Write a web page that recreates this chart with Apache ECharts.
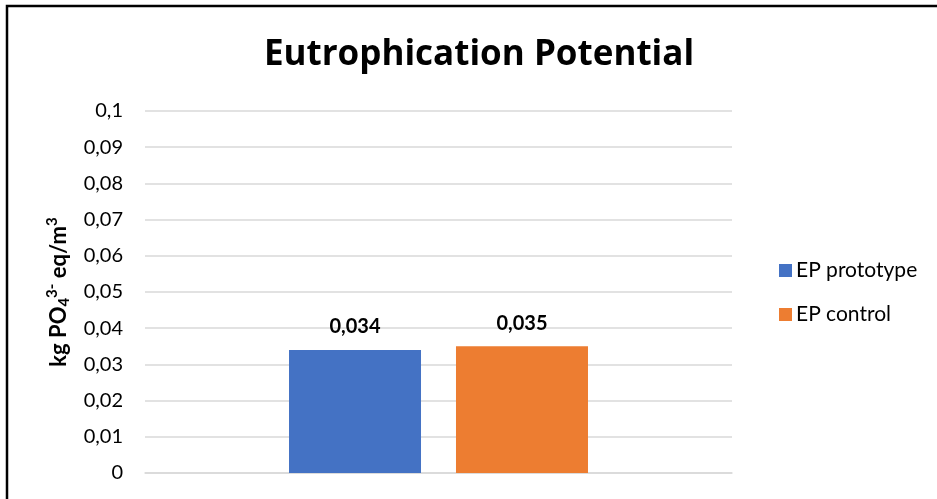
<!DOCTYPE html>
<html>
<head>
<meta charset="utf-8">
<script src="https://cdn.jsdelivr.net/npm/echarts@6/dist/echarts.min.js"></script>
<style>
  html, body { margin: 0; padding: 0; background: #fff; }
  #chart { width: 937px; height: 499px; }
</style>
</head>
<body>
<div id="chart"></div>
<script>
// Eutrophication potential, prototype vs control
const categories = ['EP'];
const seriesNames = ['EP prototype', 'EP control'];
const prototypeValues = [0.034];
const controlValues = [0.035];
const yTicks = { min: 0, max: 0.1, interval: 0.01 };

const FONT = 'Lato';
const TITLE_FONT = 'Open Sans';
const fmtComma = v => String(+v.toFixed(3)).replace('.', ',');

const chart = echarts.init(document.getElementById('chart'), null, { renderer: 'canvas' });

const barLabel = {
  show: true,
  position: 'top',
  distance: 13,
  fontFamily: FONT,
  fontWeight: 'bold',
  fontSize: 20,
  color: '#000',
  formatter: p => fmtComma(p.value)
};

chart.setOption({
  animation: false,
  backgroundColor: '#fff',
  title: {
    text: 'Eutrophication Potential',
    left: 474,
    textAlign: 'center',
    top: 33,
    textStyle: { fontFamily: TITLE_FONT, fontWeight: 'bold', fontSize: 35, color: '#000' }
  },
  graphic: [{
    type: 'rect',
    shape: { x: 7, y: 6, width: 960, height: 520 },
    style: { fill: 'none', stroke: '#000', lineWidth: 2.5 },
    silent: true
  }],
  legend: {
    orient: 'vertical',
    left: 774,
    top: 255,
    itemWidth: 13,
    itemHeight: 13,
    itemGap: 23,
    icon: 'rect',
    textStyle: { fontFamily: FONT, fontSize: 21, color: '#000', padding: [0, 0, 0, -1] },
    data: seriesNames
  },
  grid: { left: 145, right: 205, top: 111, bottom: 26, containLabel: false },
  xAxis: {
    type: 'category',
    data: categories,
    axisLine: { show: true, lineStyle: { color: '#d9d9d9', width: 1.5 } },
    axisTick: { show: false },
    axisLabel: { show: false }
  },
  yAxis: {
    type: 'value',
    min: yTicks.min,
    max: yTicks.max,
    interval: yTicks.interval,
    name: '{b|kg PO}{sub|4}{sup|3-}{b| eq/m}{sup|3}',
    nameLocation: 'middle',
    nameGap: 73,
    nameRotate: 90,
    nameTextStyle: {
      fontFamily: FONT,
      fontWeight: 'bold',
      color: '#000',
      rich: {
        b: { fontFamily: FONT, fontWeight: 'bold', fontSize: 22, color: '#000' },
        sub: { fontFamily: FONT, fontWeight: 'bold', fontSize: 15, color: '#000', verticalAlign: 'bottom', padding: [12, 0, 0, 0] },
        sup: { fontFamily: FONT, fontWeight: 'bold', fontSize: 15, color: '#000', verticalAlign: 'top', padding: [0, 0, 12, 0] }
      }
    },
    axisLine: { show: false },
    axisTick: { show: false },
    splitLine: { show: true, lineStyle: { color: '#d9d9d9', width: 1.5 } },
    axisLabel: {
      margin: 22,
      fontFamily: FONT,
      fontSize: 20,
      color: '#000',
      formatter: v => fmtComma(v)
    }
  },
  series: [
    {
      name: seriesNames[0],
      type: 'bar',
      data: prototypeValues,
      barWidth: 132,
      barGap: '26.5%',
      itemStyle: { color: '#4472C4' },
      label: barLabel
    },
    {
      name: seriesNames[1],
      type: 'bar',
      data: controlValues,
      barWidth: 132,
      itemStyle: { color: '#ED7D31' },
      label: barLabel
    }
  ]
});
</script>
</body>
</html>
